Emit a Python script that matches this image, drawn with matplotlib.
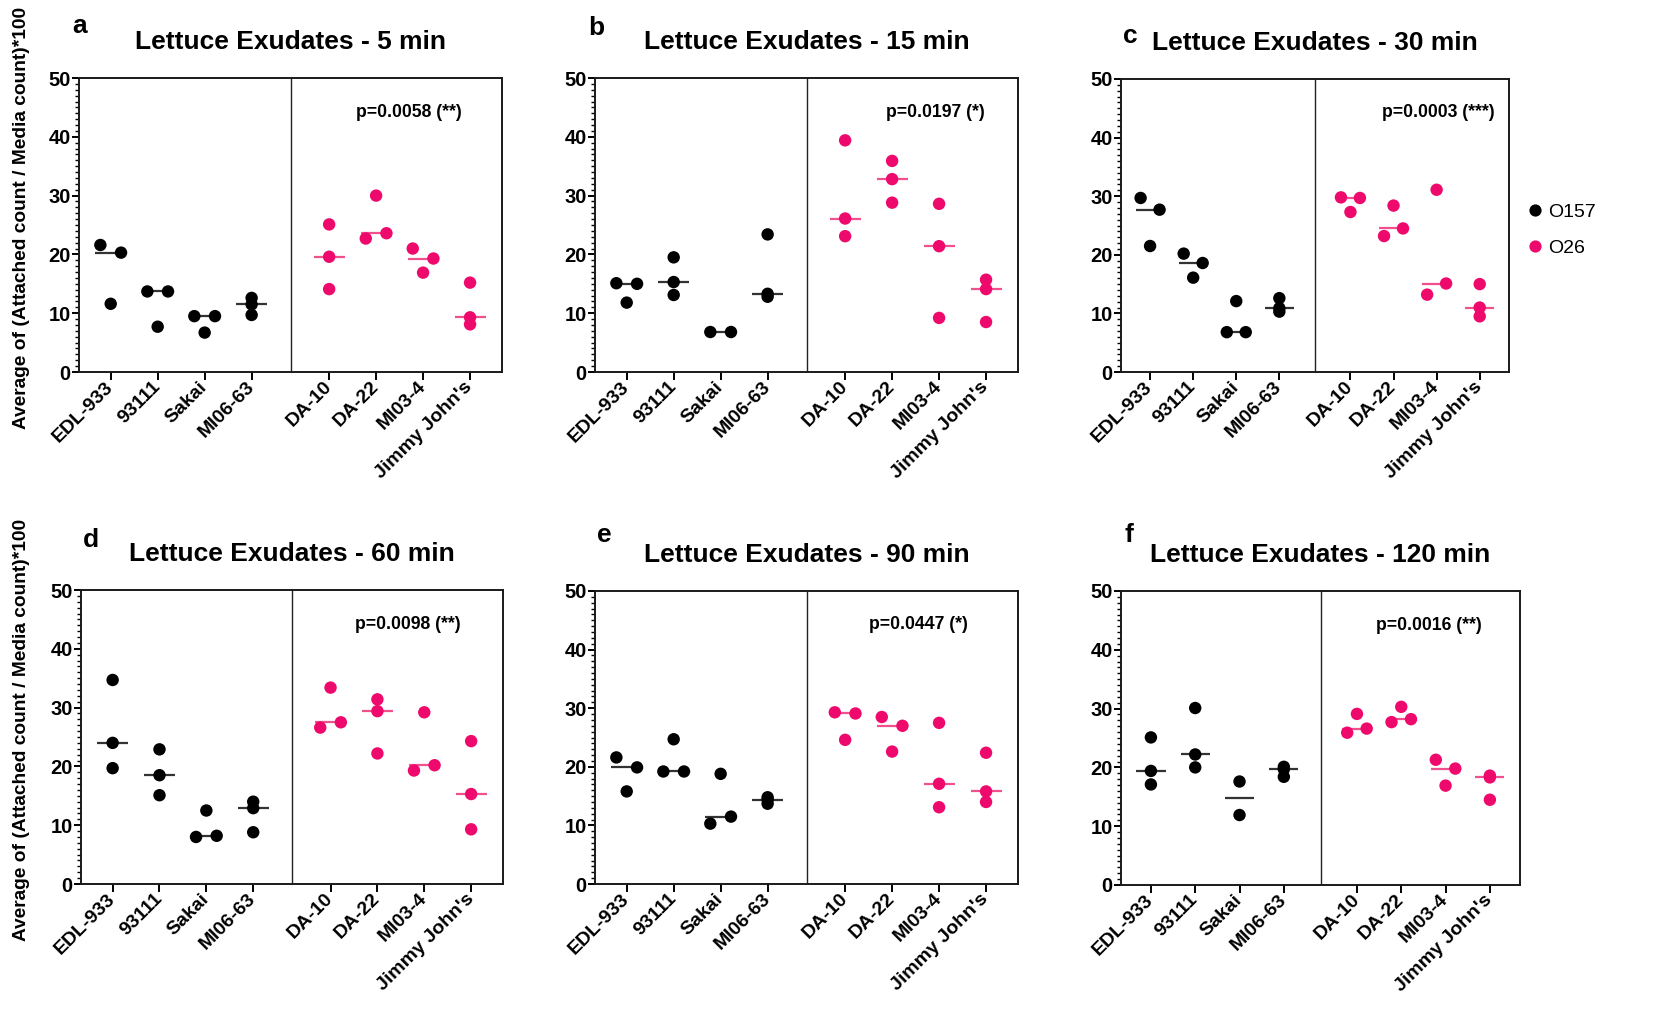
import numpy as np
import matplotlib
matplotlib.use("Agg")
import matplotlib.pyplot as plt
from matplotlib.lines import Line2D
from matplotlib.ticker import MultipleLocator

plt.rcParams['font.family'] = ['Liberation Sans', 'DejaVu Sans']

# ---------------- data ----------------
strains = ["EDL-933", "93111", "Sakai", "MI06-63", "DA-10", "DA-22", "MI03-4", "Jimmy John's"]
serogroups = ["O157", "O157", "O157", "O157", "O26", "O26", "O26", "O26"]
panel_letters = ["a", "b", "c", "d", "e", "f"]
times = ["5 min", "15 min", "30 min", "60 min", "90 min", "120 min"]
pvalues = ["p=0.0058 (**)", "p=0.0197 (*)", "p=0.0003 (***)",
           "p=0.0098 (**)", "p=0.0447 (*)", "p=0.0016 (**)"]
yticks = [0, 10, 20, 30, 40, 50]

vals_5 = [[21.6, 20.3, 11.6], [13.7, 13.7, 7.7], [9.5, 9.5, 6.7], [12.6, 11.5, 9.7],
          [25.1, 19.6, 14.1], [30.0, 22.7, 23.6], [21.0, 19.3, 16.9], [15.2, 9.3, 8.1]]
vals_15 = [[15.1, 15.0, 11.8], [19.5, 15.3, 13.1], [6.8, 6.8], [23.4, 13.3, 12.8],
           [39.4, 26.1, 23.1], [35.9, 32.8, 28.8], [28.6, 21.4, 9.2], [15.7, 14.1, 8.5]]
vals_30 = [[29.7, 27.7, 21.5], [20.2, 18.6, 16.1], [12.1, 6.8, 6.8], [12.6, 10.9, 10.3],
           [29.8, 29.7, 27.3], [28.4, 23.2, 24.5], [31.1, 13.2, 15.1], [15.0, 11.0, 9.5]]
vals_60 = [[34.7, 24.0, 19.7], [22.9, 18.5, 15.1], [12.5, 8.0, 8.2], [14.0, 12.9, 8.8],
           [33.4, 26.6, 27.5], [31.4, 29.4, 22.2], [29.2, 19.3, 20.2], [24.3, 15.3, 9.3]]
vals_90 = [[21.6, 19.9, 15.8], [24.7, 19.2, 19.2], [18.8, 10.3, 11.5], [14.8, 14.4, 13.7],
           [29.3, 29.1, 24.6], [28.5, 27.0, 22.6], [27.5, 17.1, 13.1], [22.4, 15.8, 14.0]]
vals_120 = [[25.1, 19.4, 17.1], [30.1, 22.2, 20.0], [17.6, 11.9], [20.1, 19.7, 18.4],
            [29.1, 25.9, 26.6], [30.3, 27.7, 28.2], [21.3, 19.8, 16.9], [18.6, 18.3, 14.5]]

# horizontal spread slot of each dot (-1 left, 0 centre, +1 right), as in the scatter-dot layout
slot_5 = [[-1, 1, 0], [-1, 1, 0], [-1, 1, 0], [0, 0, 0], [0, 0, 0], [0, -1, 1], [-1, 1, 0], [0, 0, 0]]
slot_15 = [[-1, 1, 0], [0, 0, 0], [-1, 1], [0, 0, 0], [0, 0, 0], [0, 0, 0], [0, 0, 0], [0, 0, 0]]
slot_30 = [[-1, 1, 0], [-1, 1, 0], [0, -1, 1], [0, 0, 0], [-1, 1, 0], [0, -1, 1], [0, -1, 1], [0, 0, 0]]
slot_60 = [[0, 0, 0], [0, 0, 0], [0, -1, 1], [0, 0, 0], [0, -1, 1], [0, 0, 0], [0, -1, 1], [0, 0, 0]]
slot_90 = [[-1, 1, 0], [0, -1, 1], [0, -1, 1], [0, 0, 0], [-1, 1, 0], [-1, 1, 0], [0, 0, 0], [0, 0, 0]]
slot_120 = [[0, 0, 0], [0, 0, 0], [0, 0], [0, 0, 0], [0, -1, 1], [0, -1, 1], [-1, 1, 0], [0, 0, 0]]

all_vals = [vals_5, vals_15, vals_30, vals_60, vals_90, vals_120]
all_slots = [slot_5, slot_15, slot_30, slot_60, slot_90, slot_120]

# ---------------- layout / style ----------------
W, H = 1674, 1011
DOT = {"O157": "#000000", "O26": "#EE0A6C"}
MED = {"O157": "#333333", "O26": "#F0508E"}
xpos = [0, 1, 2, 3, 4.65, 5.65, 6.65, 7.65]
XLIM = (-0.675, 8.33)
DIVIDER = 3.835
SPREAD = 0.22
HALFW = 0.33

# axes boxes in pixels: left, top, right, bottom
boxes = [(79, 78, 502, 372), (595, 78, 1018, 372), (1121, 79, 1509, 372),
         (81, 590, 503, 884), (595, 591, 1018, 884), (1121, 591, 1520, 885)]
letter_pos = [(72, 33), (588, 35), (1123, 43), (83, 547), (597, 542), (1125, 542)]
ptext_x = [6.35, 6.57, 6.68, 6.29, 6.22, 6.28]

fig = plt.figure(figsize=(W / 100, H / 100), dpi=100)

for i in range(6):
    l, t, r, b = boxes[i]
    ax = fig.add_axes([l / W, 1 - b / H, (r - l) / W, (b - t) / H])
    vals, slots = all_vals[i], all_slots[i]
    for j in range(len(strains)):
        g = serogroups[j]
        v = np.array(vals[j])
        x = xpos[j] + SPREAD * np.array(slots[j])
        med = np.median(v)
        ax.plot([xpos[j] - HALFW, xpos[j] + HALFW], [med, med], color=MED[g], lw=1.6,
                zorder=2, solid_capstyle='butt')
        ax.scatter(x, v, s=80, color=DOT[g], edgecolors='none', zorder=3)
    ax.axvline(DIVIDER, color='#222222', lw=1.0, zorder=1)
    ax.set_xlim(*XLIM)
    ax.set_ylim(0, 50)
    ax.set_yticks(yticks)
    ax.set_yticklabels([str(v) for v in yticks], fontsize=14.5, fontweight='bold')
    ax.yaxis.set_minor_locator(MultipleLocator(1))
    ax.set_xticks(xpos)
    ax.set_xticklabels(strains, rotation=45, ha='right', va='center',
                       rotation_mode='anchor', fontsize=14, fontweight='bold')
    ax.tick_params(axis='y', which='major', length=5, width=1.4, pad=1)
    ax.tick_params(axis='y', which='minor', length=3, width=1.0)
    ax.tick_params(axis='x', which='major', length=6, width=1.4, pad=3)
    ax.tick_params(axis='x', which='minor', length=0)
    for sp in ax.spines.values():
        sp.set_linewidth(1.4)
        sp.set_color('#1a1a1a')
    ax.set_title("Lettuce Exudates - " + times[i], fontsize=19, fontweight='bold', pad=21)
    ax.text(ptext_x[i], 44.2, pvalues[i], ha='center', va='center', fontsize=12.7,
            fontweight='bold')
    lx, ly = letter_pos[i]
    fig.text(lx / W, 1 - ly / H, panel_letters[i], fontsize=19, fontweight='bold',
             ha='left', va='baseline')

ylabel = "Average of (Attached count / Media count)*100"
fig.text(22 / W, 1 - 218 / H, ylabel, rotation=90, ha='center', va='center',
         fontsize=13.8, fontweight='bold')
fig.text(22 / W, 1 - 730 / H, ylabel, rotation=90, ha='center', va='center',
         fontsize=13.8, fontweight='bold')

# legend
handles = [Line2D([], [], marker='o', ls='', color=DOT[g], markeredgewidth=0, markersize=8.8)
           for g in ["O157", "O26"]]
fig.legend(handles, ["O157", "O26"], loc='center left',
           bbox_to_anchor=(1518 / W, 1 - 230 / H), frameon=False, fontsize=14,
           handlelength=0.8, handletextpad=0.25, labelspacing=0.95, borderpad=0)

fig.savefig("out.png", dpi=100)
